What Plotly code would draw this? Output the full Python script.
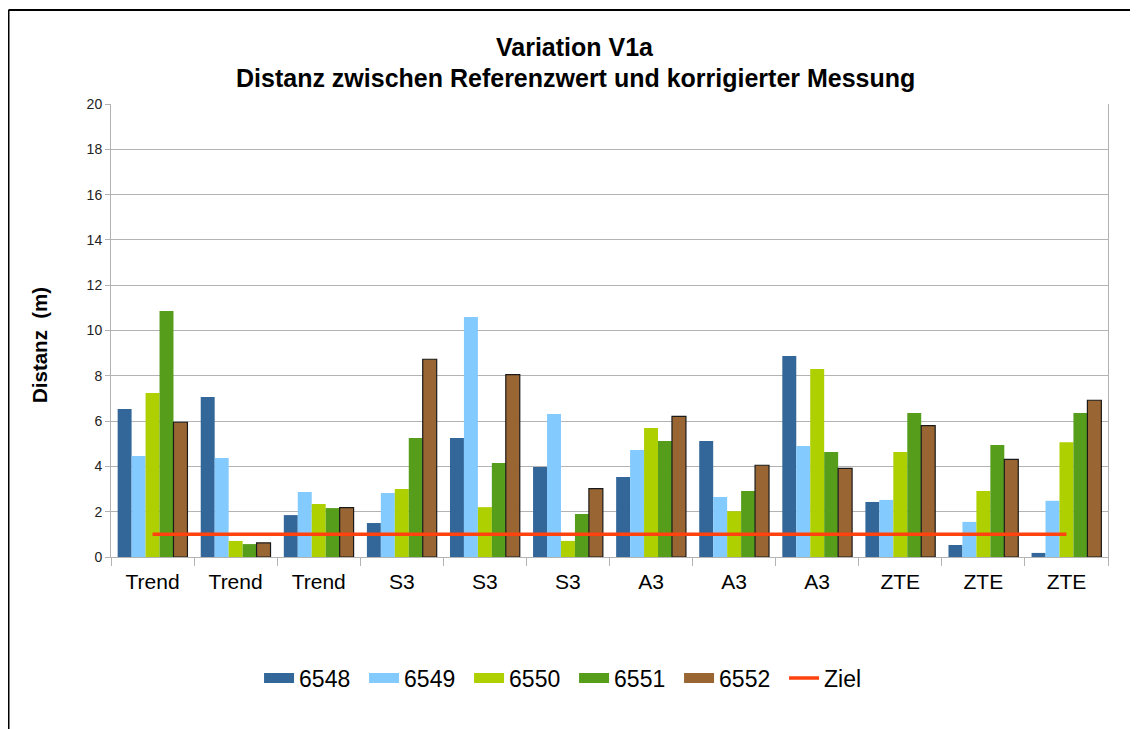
import plotly.graph_objects as go

# category labels (x axis)
labels = ['Trend', 'Trend', 'Trend', 'S3', 'S3', 'S3', 'A3', 'A3', 'A3', 'ZTE', 'ZTE', 'ZTE']

# distance values per measurement series (m)
s6548 = [6.53, 7.06, 1.85, 1.50, 5.25, 3.97, 3.53, 5.12, 8.87, 2.43, 0.53, 0.18]
s6549 = [4.46, 4.37, 2.87, 2.83, 10.60, 6.31, 4.72, 2.65, 4.90, 2.52, 1.55, 2.48]
s6550 = [7.24, 0.71, 2.34, 3.00, 2.20, 0.71, 5.69, 2.02, 8.30, 4.64, 2.91, 5.07]
s6551 = [10.86, 0.57, 2.16, 5.25, 4.15, 1.90, 5.12, 2.91, 4.64, 6.36, 4.94, 6.36]
s6552 = [5.95, 0.62, 2.18, 8.73, 8.05, 3.02, 6.21, 4.05, 3.91, 5.80, 4.31, 6.92]
ziel = [1, 1, 1, 1, 1, 1, 1, 1, 1, 1, 1, 1]

series = [
    ('6548', s6548, '#336699'),
    ('6549', s6549, '#83CAFF'),
    ('6550', s6550, '#AECF00'),
    ('6551', s6551, '#579D1C'),
    ('6552', s6552, '#996633'),
]

FONT = 'Liberation Sans'
pos = list(range(len(labels)))

fig = go.Figure()

for name, vals, col in series:
    outline = dict(color='#1a1a1a', width=1.2) if name == '6552' else dict(width=0)
    fig.add_trace(go.Bar(x=pos, y=vals, name=name, showlegend=False,
                         marker=dict(color=col, line=outline)))

# legend entries drawn as wide swatches
for name, vals, col in series:
    fig.add_trace(go.Scatter(x=[None], y=[None], mode='lines', name=name,
                             line=dict(color=col, width=14)))

fig.add_trace(go.Scatter(x=pos, y=ziel, mode='lines', name='Ziel',
                         line=dict(color='#FF420E', width=3.5)))

# page body has an 8px margin; plot area on screen: x 111..1108, y 104..557
fig.update_layout(
    width=1138, height=729,
    margin=dict(l=103, r=38, t=96, b=180, autoexpand=False),
    paper_bgcolor='white', plot_bgcolor='white',
    font=dict(family=FONT, color='#000000'),
    barmode='group', bargap=0.16, bargroupgap=0,
    showlegend=True,
    legend=dict(orientation='h', x=0.1485, xanchor='left', y=-0.267, yanchor='middle',
                font=dict(size=23), itemwidth=30, traceorder='normal',
                entrywidth=60, entrywidthmode='pixels'),
)

fig.update_xaxes(
    range=[-0.5, 11.5], tickvals=pos, ticktext=labels, ticks='',
    tickfont=dict(size=21), showgrid=False, zeroline=False, ticklabelstandoff=6,
    showline=True, linecolor='#b3b3b3', linewidth=1,
    minor=dict(tickvals=[i - 0.5 for i in range(13)], ticks='outside', ticklen=8,
               tickcolor='#b3b3b3', showgrid=False),
)
fig.update_yaxes(
    range=[0, 20], dtick=2, tickfont=dict(size=14, color='#222222'),
    showgrid=True, gridcolor='#b3b3b3', gridwidth=1, zeroline=False,
    showline=True, linecolor='#b3b3b3', linewidth=1, mirror=True,
    ticks='outside', ticklen=5, tickcolor='#b3b3b3',
)

# titles
fig.add_annotation(text='<b>Variation V1a</b>', xref='paper', yref='paper',
                   x=0.4654, y=1.1258, xanchor='center', yanchor='middle',
                   showarrow=False, font=dict(size=25))
fig.add_annotation(text='<b>Distanz zwischen Referenzwert und korrigierter Messung</b>',
                   xref='paper', yref='paper', x=0.4654, y=1.0574,
                   xanchor='center', yanchor='middle', showarrow=False,
                   font=dict(size=25))
fig.add_annotation(text='<b>Distanz  (m)</b>', xref='paper', yref='paper',
                   x=-0.0712, y=0.468, xanchor='center', yanchor='middle',
                   showarrow=False, textangle=-90, font=dict(size=20.5))

# outer frame (top and left edges visible)
fig.add_shape(type='line', xref='paper', yref='paper', x0=-0.1028, x1=1.05,
              y0=1.2075, y1=1.2075, line=dict(color='black', width=2))
fig.add_shape(type='line', xref='paper', yref='paper', x0=-0.1028, x1=-0.1028,
              y0=1.2075, y1=-0.42, line=dict(color='black', width=2))

fig.write_html('out.html')
